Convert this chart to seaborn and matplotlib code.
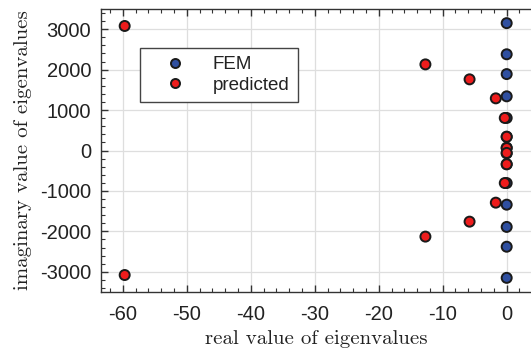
import matplotlib
matplotlib.use("Agg")
import matplotlib.pyplot as plt
import seaborn as sns
import pandas as pd
from matplotlib.ticker import MultipleLocator

fem_real = [0, 0, 0, 0, 0, 0, 0, 0, 0, 0, 0, 0, 0, 0]
fem_imag = [3150, 2380, 1890, 1340, 805, 340, 70, -70, -340, -805, -1340, -1890, -2380, -3150]
pred_real = [-59.7, -12.7, -5.8, -1.7, -0.3, 0, 0, 0, 0, -0.3, -1.7, -5.8, -12.7, -59.7]
pred_imag = [3080, 2130, 1760, 1290, 805, 340, 60, -60, -340, -805, -1290, -1760, -2130, -3080]

df = pd.DataFrame({
    "re": fem_real + pred_real,
    "im": fem_imag + pred_imag,
    "kind": ["FEM"] * len(fem_real) + ["predicted"] * len(pred_real),
})

sns.set_style("white")
plt.rcParams["axes.unicode_minus"] = False
plt.rcParams["font.family"] = ["Liberation Sans", "DejaVu Sans"]

fig = plt.figure(figsize=(5.31, 3.55), dpi=100)
ax = fig.add_axes([101 / 531, 1 - 292 / 355, 1 - 101 / 531, (292 - 9) / 355])

sns.scatterplot(data=df, x="re", y="im", hue="kind",
                palette={"FEM": "#2f4fa0", "predicted": "#ee1c1c"},
                s=52, edgecolor="#1a1a1a", linewidth=1.4, ax=ax, zorder=3)

ax.set_xlim(-63.4, 3.8)
ax.set_ylim(-3500, 3500)
ax.xaxis.set_major_locator(MultipleLocator(10))
ax.xaxis.set_minor_locator(MultipleLocator(2))
ax.yaxis.set_major_locator(MultipleLocator(1000))
ax.yaxis.set_minor_locator(MultipleLocator(200))
ax.grid(True, which="major", color="#dedede", linewidth=0.9)
ax.set_axisbelow(True)
ax.tick_params(which="both", direction="in", top=True, bottom=True, left=True, right=False,
               color="#333333", labelsize=14.5, labelcolor="#222222")
ax.tick_params(which="major", length=5, width=1)
ax.tick_params(which="minor", length=3, width=0.8)
ax.tick_params(axis="x", which="both", pad=9)
ax.tick_params(axis="y", which="both", pad=7)
for s in ["left", "bottom", "top"]:
    ax.spines[s].set_color("#333333")
    ax.spines[s].set_linewidth(1.0)
ax.spines["right"].set_visible(False)

ax.set_xlabel("real value of eigenvalues", family=["cmr10", "DejaVu Serif"], fontsize=15, color="#222222", labelpad=5)
ax.set_ylabel("imaginary value of eigenvalues", family=["cmr10", "DejaVu Serif"], fontsize=15, color="#222222", labelpad=6)

leg = ax.legend(loc="upper left", bbox_to_anchor=((139.5 - 101) / 430, 1 - (47.5 - 9) / 283),
                frameon=True, fancybox=False, fontsize=13.5, borderpad=0.45,
                handlelength=2.9, handletextpad=0.55, labelspacing=0.2, borderaxespad=0,
                markerscale=0.9)
leg.get_frame().set_edgecolor("#444444")
leg.get_frame().set_linewidth(1.0)
leg.get_frame().set_alpha(1)
for t in leg.get_texts():
    t.set_color("#222222")

fig.savefig("out.png", dpi=100)
